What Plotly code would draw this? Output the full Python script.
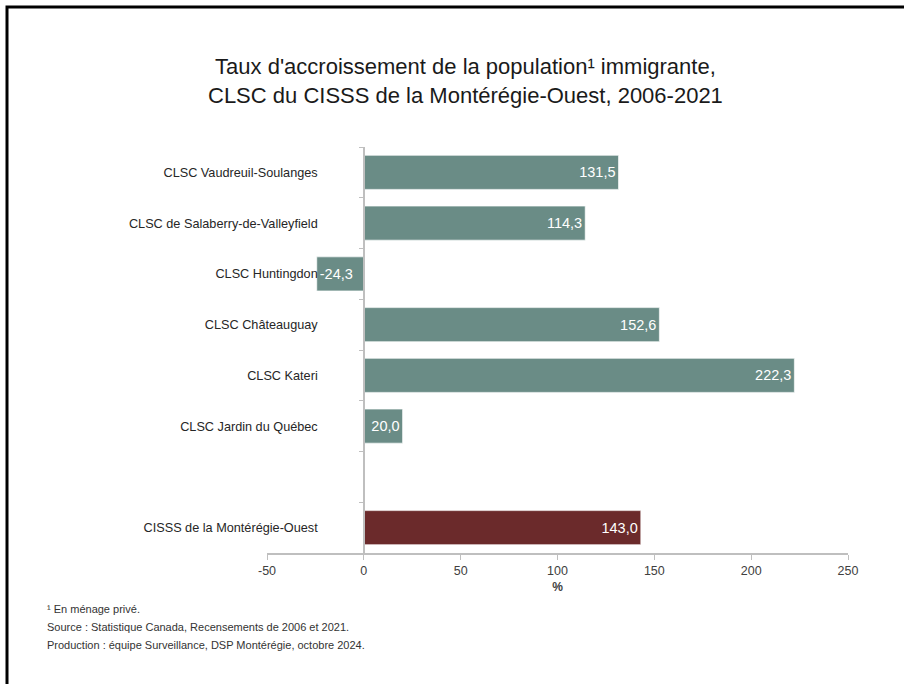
import plotly.graph_objects as go

categories = [
    "CLSC Vaudreuil-Soulanges",
    "CLSC de Salaberry-de-Valleyfield",
    "CLSC Huntingdon",
    "CLSC Châteauguay",
    "CLSC Kateri",
    "CLSC Jardin du Québec",
    " ",
    "CISSS de la Montérégie-Ouest",
]
values = [131.5, 114.3, -24.3, 152.6, 222.3, 20.0, None, 143.0]
colors = ["#6A8C86"] * 7 + ["#6B2A2B"]
x_ticks = [-50, 0, 50, 100, 150, 200, 250]
x_tick_labels = ["-50", "0", "50", "100", "150", "200", "250"]

title_text = ("Taux d'accroissement de la population¹ immigrante,<br>"
              "CLSC du CISSS de la Montérégie-Ouest, 2006-2021")
notes = [
    "¹ En ménage privé.",
    "Source : Statistique Canada, Recensements de 2006 et 2021.",
    "Production : équipe Surveillance, DSP Montérégie, octobre 2024.",
]

labels = ["" if v is None else f"{v:.1f}".replace(".", ",") for v in values]

W, H = 904, 684
L, R = 267, 848
T, B = 147, 553
pw, ph = R - L, B - T


def px_x(p):
    return (p - L) / pw


def px_y(p):
    return (B - p) / ph


fig = go.Figure()
fig.add_trace(go.Bar(
    y=categories,
    x=values,
    orientation="h",
    marker=dict(color=colors, line=dict(color="rgba(255,255,255,0.6)", width=1)),
    text=labels,
    textposition="inside",
    insidetextanchor="end",
    textfont=dict(color="white", size=14.5, family="Liberation Sans, Arial, sans-serif"),
    cliponaxis=False,
    hoverinfo="skip",
))

fig.update_layout(
    width=W, height=H,
    margin=dict(l=L, r=W - R, t=T, b=H - B),
    paper_bgcolor="white",
    plot_bgcolor="white",
    bargap=0.33,
    showlegend=False,
    uniformtext=dict(minsize=14.5, mode="show"),
    font=dict(family="Liberation Sans, Arial, sans-serif", color="#262626"),
    xaxis=dict(
        range=[-50, 250],
        tickvals=x_ticks,
        ticktext=x_tick_labels,
        showgrid=False,
        zeroline=False,
        showline=True,
        linecolor="#BFBFBF",
        linewidth=1.5,
        ticks="outside",
        ticklen=5,
        tickcolor="#BFBFBF",
        tickfont=dict(size=12.5, color="#404040"),
        title=dict(text="<b>%</b>", font=dict(size=12, color="#404040"), standoff=6),
    ),
    yaxis=dict(
        categoryorder="array",
        categoryarray=categories,
        autorange="reversed",
        anchor="free",
        position=px_x(364),
        showgrid=False,
        zeroline=False,
        showline=True,
        linecolor="#BFBFBF",
        linewidth=1.5,
        ticks="outside",
        ticklen=4,
        tickcolor="#BFBFBF",
        tickson="boundaries",
        tickfont=dict(size=12.7, color="#262626"),
        ticklabelstandoff=43,
    ),
)

fig.add_annotation(
    text=title_text, xref="paper", yref="paper",
    x=px_x(465), y=px_y(81), xanchor="center", yanchor="middle",
    showarrow=False, align="center",
    font=dict(size=22, color="#1a1a1a",
              family="Liberation Sans Narrow, Arial Narrow, Liberation Sans, sans-serif"),
)

for i, n in enumerate(notes):
    fig.add_annotation(
        text=n, xref="paper", yref="paper",
        x=px_x(45), y=px_y(609 + 18 * i), xanchor="left", yanchor="middle",
        showarrow=False, font=dict(size=11, color="#333333"),
    )

fig.add_shape(
    type="rect", xref="paper", yref="paper",
    x0=px_x(7), x1=px_x(920), y0=px_y(7), y1=px_y(700),
    line=dict(color="black", width=3), fillcolor="rgba(0,0,0,0)",
)

fig.write_html("out.html", config={"displayModeBar": False},
               post_script="document.body.style.margin='0px';")
